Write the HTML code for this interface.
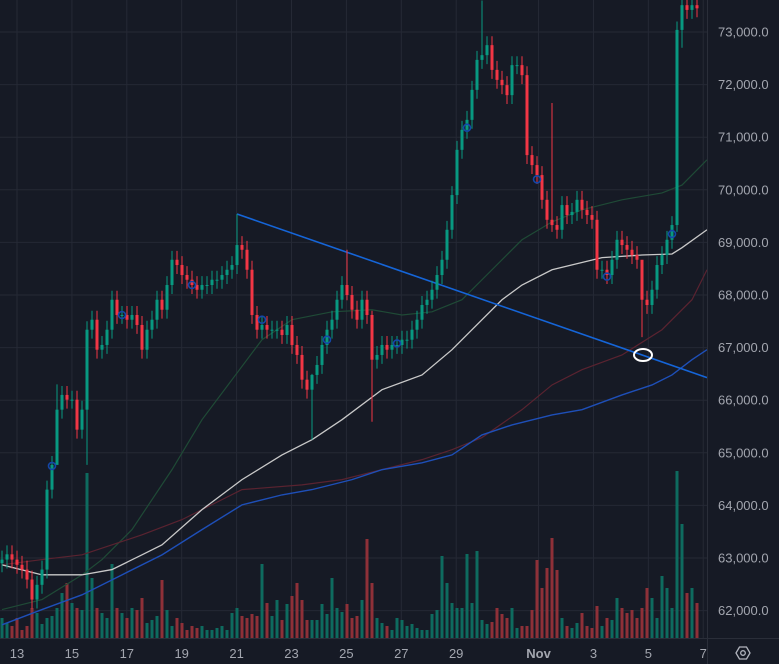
<!DOCTYPE html>
<html><head><meta charset="utf-8">
<style>
html,body{margin:0;padding:0;background:#161a25;width:779px;height:664px;overflow:hidden}
svg{display:block;font-family:"Liberation Sans",sans-serif}
</style></head>
<body>
<svg id="chart" width="779" height="664" xmlns="http://www.w3.org/2000/svg"></svg>
<script>
const closes=[62970,63070,62970,62870,62780,62590,62210,62490,62780,64300,
64770,65820,66100,66010,66010,65440,65820,67340,67530,66960,
67050,67340,67910,67620,67620,67530,67620,67430,66960,67340,
67530,67910,67720,68190,68670,68570,68380,68290,68190,68100,
68190,68190,68290,68290,68380,68480,68570,68950,68860,68480,
67620,67340,67430,67340,67340,67340,67240,67430,67050,66860,
66390,66200,66480,66670,67050,67340,67530,67910,68190,68000,
67720,67530,67910,67620,66770,66860,67050,66960,67050,67050,
67150,67150,67340,67530,67810,67910,68100,68380,68670,69240,
69900,70760,71140,71330,71900,72470,72560,72750,72280,72090,
71990,71800,72370,72370,72180,70660,70470,70280,69810,69430,
69330,69240,69710,69520,69580,69810,69620,69520,69430,68480,
68480,68380,68670,69050,68950,68860,68760,68670,67910,67810,
68100,68570,68760,69050,69330,73040,73510,73420,73510,73450];
const volumes=[20,15,12,20,8,12,30,25,14,20,
22,30,45,55,35,30,28,165,60,30,
25,20,74,30,25,20,30,28,40,15,
18,22,58,28,12,20,15,8,12,10,
12,8,8,10,12,8,25,30,22,20,
24,22,74,35,22,38,18,34,42,55,
38,18,18,18,34,24,60,30,26,34,
20,22,38,99,55,20,15,12,8,20,
18,12,14,10,8,8,24,28,82,55,
35,30,30,84,35,87,18,14,16,30,
24,20,30,10,12,12,28,78,50,70,
100,68,20,12,10,15,25,12,10,32,
12,20,18,40,30,25,28,20,30,50,
40,20,62,50,30,167,114,45,50,35];
const wickSpecial={11:[66300,65100],17:[67500,64770],47:[69540,68400],62:[66500,65250],69:[68860,67900],74:[67700,65590],96:[73600,72300],110:[71650,69200],128:[68300,67200],135:[73200,69200],136:[73700,72700]};
const priceTicks=[62000,63000,64000,65000,66000,67000,68000,69000,70000,71000,72000,73000];
const dayTicks=[13,15,17,19,21,23,25,27,29,32,34,36,38];
const dayLabels=["13","15","17","19","21","23","25","27","29","Nov","3","5","7"];
const maIdx=[0,8,16,22,28,32,40,48,56,62,68,76,84,90,96,100,104,110,120,128,134,136,141];
const maWhite=[62870,62680,62680,62780,63060,63250,63920,64490,64960,65250,65630,66200,66480,66960,67530,67910,68190,68480,68710,68760,68780,68900,69240];
const maGreenIdx=[0,8,16,20,26,34,40,46,52,58,66,74,80,86,92,98,104,110,116,124,132,136,141];
const maGreen=[62020,62210,62680,62970,63540,64680,65630,66390,67150,67530,67680,67720,67620,67680,67910,68480,69050,69390,69620,69810,69940,70090,70570];
const maRedIdx=[0,8,16,28,36,44,48,60,68,76,84,90,96,104,110,116,124,132,138,141];
const maRed=[62870,62970,63060,63440,63730,64110,64300,64390,64490,64680,64870,65060,65290,65820,66290,66580,66860,67340,67910,68480];
const maBlueIdx=[0,8,16,24,32,40,48,56,62,70,76,84,90,96,102,110,116,124,130,134,138,141];
const maBlue=[61730,62020,62300,62680,63060,63540,64010,64200,64300,64490,64680,64810,64960,65340,65530,65720,65820,66100,66290,66480,66770,66960];
const trendIdx=[47,141];
const trendVal=[69540,66430];
const markerIdx=[10,24,38,52,65,79,93,107,121,134];
const markerVal=[64750,67620,68190,67530,67150,67080,71180,70200,68350,69160];

const NS="http://www.w3.org/2000/svg";
const svg=document.getElementById('chart');
const PW=707, BASE=638;
const y=p=>32+(73000-p)*0.0526;
const x=i=>2+i*5;
const dx=d=>17+(d-13)*27.45;
function mk(tag,at,parent){const e=document.createElementNS(NS,tag);for(const k in at)e.setAttribute(k,at[k]);(parent||svg).appendChild(e);return e;}

const grid=mk('g',{});


priceTicks.forEach(p=>mk('line',{x1:0,x2:PW,y1:y(p),y2:y(p),stroke:'#252935','stroke-width':1},grid));
dayTicks.forEach(d=>mk('line',{x1:dx(d),x2:dx(d),y1:0,y2:BASE,stroke:'#252935','stroke-width':1},grid));

const vol=mk('g',{});


closes.forEach((c,i)=>{
  const o=i?closes[i-1]:62900;
  const r=mk('rect',{x:x(i)-1.5,y:BASE-volumes[i],width:3,height:volumes[i],fill:c>=o?'#0e6b5f':'#8e3038'},vol);
  
  
});

function ma(idx,vals,color,name,w){
  const pts=idx.map((k,j)=>x(k)+','+y(vals[j])).join(' ');
  const l=mk('polyline',{points:pts,fill:'none',stroke:color,'stroke-width':w||1.2});
  
  
}
ma(maGreenIdx,maGreen,'#1f4a36','ma-green');
ma(maRedIdx,maRed,'#5a2330','ma-red');
ma(maBlueIdx,maBlue,'#1e4fb8','ma-blue',1.4);
ma(maIdx,maWhite,'#c9c9c9','ma-white',1.3);

const tl=mk('line',{x1:x(trendIdx[0]),y1:y(trendVal[0]),x2:x(trendIdx[1]),y2:y(trendVal[1]),stroke:'#1565d8','stroke-width':1.6});



const cg=mk('g',{});


closes.forEach((c,i)=>{
  const o=i?closes[i-1]:62900;
  const up=c>=o, col=up?'#089981':'#f23645';
  let hi=Math.max(o,c)+170, lo=Math.min(o,c)-170;
  if(wickSpecial[i]){hi=wickSpecial[i][0];lo=wickSpecial[i][1];}
  const g=mk('g',{},cg);
  
  
  mk('line',{x1:x(i),x2:x(i),y1:y(hi),y2:y(lo),stroke:col,'stroke-width':1},g);
  const top=y(Math.max(o,c)), h=Math.max(1,Math.abs(y(o)-y(c)));
  mk('rect',{x:x(i)-1.5,y:top,width:3,height:h,fill:col},g);
});

markerIdx.forEach((k,j)=>{
  const m=mk('circle',{cx:x(k),cy:y(markerVal[j]),r:3.5,fill:'none',stroke:'#1447a8','stroke-width':1.6});
  
  
});
const wm=mk('ellipse',{cx:643,cy:355,rx:9,ry:6,fill:'none',stroke:'#ffffff','stroke-width':2});



const ax=mk('g',{});


mk('rect',{x:PW,y:0,width:72,height:664,fill:'#161a25'},ax);
mk('line',{x1:PW+0.5,x2:PW+0.5,y1:0,y2:664,stroke:'#2a2e39'},ax);
priceTicks.forEach(p=>{
  const t=mk('text',{x:718,y:y(p)+4.5,fill:'#a3a6af','font-size':13},ax);
  t.textContent=p.toLocaleString('en-US')+'.0';
  
  
});
const tx=mk('g',{});


mk('rect',{x:0,y:BASE+1,width:PW,height:30,fill:'#161a25'},tx);
mk('line',{x1:0,x2:779,y1:BASE+0.5,y2:BASE+0.5,stroke:'#2a2e39'},tx);
dayTicks.forEach((d,j)=>{
  const t=mk('text',{x:dx(d),y:658,fill:'#a3a6af','font-size':13,'text-anchor':'middle','font-weight':dayLabels[j]==='Nov'?'bold':'normal'},tx);
  t.textContent=dayLabels[j];
  
  
});
const gear=mk('g',{});


mk('polygon',{points:'736,653 739.5,647 746.5,647 750,653 746.5,659 739.5,659',fill:'none',stroke:'#b2b5be','stroke-width':1.3},gear);
mk('circle',{cx:743,cy:653,r:2.3,fill:'none',stroke:'#b2b5be','stroke-width':1.3},gear);
</script>
</body></html>
